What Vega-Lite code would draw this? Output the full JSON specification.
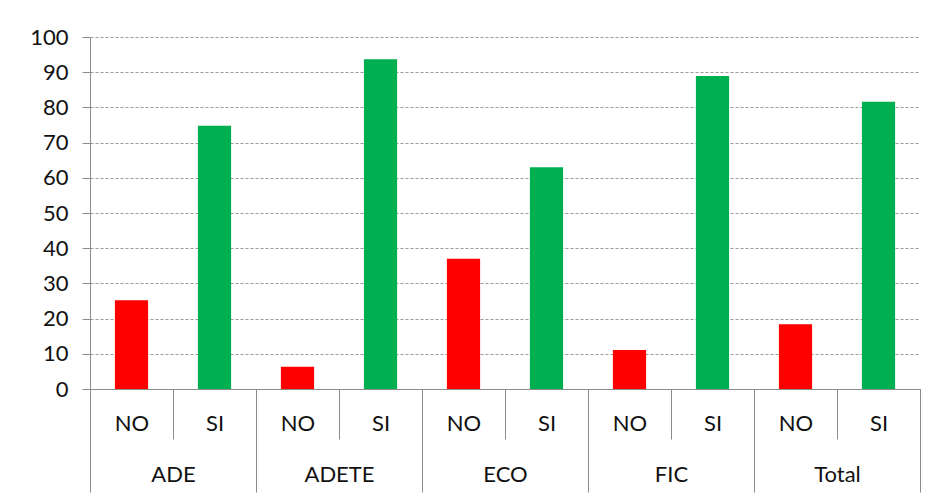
{
  "$schema": "https://vega.github.io/schema/vega-lite/v6.json",
  "width": 830,
  "height": 352,
  "autosize": {"type": "none"},
  "padding": {"left": 90, "top": 37, "right": 16, "bottom": 111},
  "background": "white",
  "data": {
    "values": [
      {"group": "ADE", "answer": "NO", "key": "ADE|NO", "value": 25.2},
      {"group": "ADE", "answer": "SI", "key": "ADE|SI", "value": 74.8},
      {"group": "ADETE", "answer": "NO", "key": "ADETE|NO", "value": 6.3},
      {"group": "ADETE", "answer": "SI", "key": "ADETE|SI", "value": 93.7},
      {"group": "ECO", "answer": "NO", "key": "ECO|NO", "value": 37.0},
      {"group": "ECO", "answer": "SI", "key": "ECO|SI", "value": 63.0},
      {"group": "FIC", "answer": "NO", "key": "FIC|NO", "value": 11.1},
      {"group": "FIC", "answer": "SI", "key": "FIC|SI", "value": 88.9},
      {"group": "Total", "answer": "NO", "key": "Total|NO", "value": 18.4},
      {"group": "Total", "answer": "SI", "key": "Total|SI", "value": 81.6}
    ]
  },
  "config": {
    "view": {"stroke": null},
    "axis": {
      "labelFont": "Lato",
      "labelFontSize": 22,
      "labelColor": "#111111",
      "domainColor": "#8c8c8c",
      "tickColor": "#8c8c8c",
      "titleFont": "Lato",
      "labelOverlap": false
    }
  },
  "layer": [
    {
      "mark": {"type": "bar", "width": {"band": 0.4}},
      "encoding": {
        "x": {
          "field": "key",
          "type": "nominal",
          "sort": null,
          "scale": {"paddingInner": 0, "paddingOuter": 0},
          "axis": {
            "orient": "bottom",
            "title": null,
            "labelExpr": "split(datum.value, '|')[1]",
            "labelAngle": 0,
            "tickBand": "extent",
            "tickSize": 50,
            "labelPadding": -26,
            "grid": false
          }
        },
        "y": {
          "field": "value",
          "type": "quantitative",
          "scale": {"domain": [0, 100]},
          "axis": {
            "title": null,
            "values": [0, 10, 20, 30, 40, 50, 60, 70, 80, 90, 100],
            "labelOverlap": false,
            "grid": true,
            "gridDash": [3, 2],
            "gridColor": "#9a9a9a",
            "tickSize": 8,
            "labelPadding": 14
          }
        },
        "color": {
          "field": "answer",
          "type": "nominal",
          "scale": {"domain": ["NO", "SI"], "range": ["#FF0000", "#00B050"]},
          "legend": null
        }
      }
    },
    {
      "mark": {"type": "point", "opacity": 0},
      "encoding": {
        "x": {
          "field": "group",
          "type": "nominal",
          "sort": null,
          "scale": {"paddingInner": 0, "paddingOuter": 0},
          "axis": {
            "orient": "bottom",
            "title": null,
            "labelAngle": 0,
            "tickBand": "extent",
            "tickSize": 103,
            "labelPadding": -28,
            "grid": false
          }
        }
      }
    }
  ],
  "resolve": {"scale": {"x": "independent"}, "axis": {"x": "independent"}}
}
